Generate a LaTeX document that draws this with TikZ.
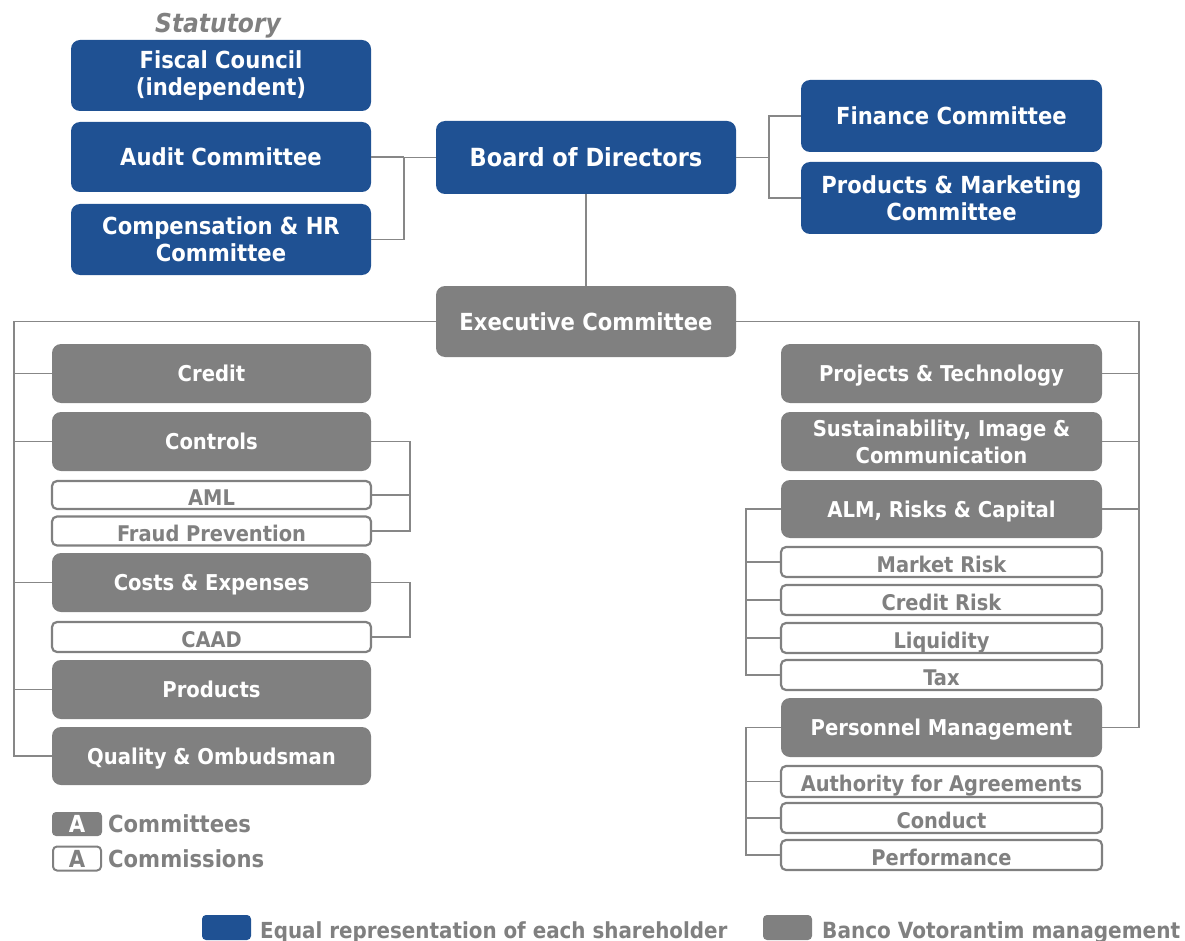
\documentclass[tikz,border=0pt]{standalone}
\usepackage{fontspec}
\setmainfont{DejaVu Sans Condensed}
\begin{document}
\definecolor{bvblue}{RGB}{31,81,147}
\definecolor{bvgray}{RGB}{128,128,128}
\definecolor{linegray}{RGB}{135,135,135}
\begin{tikzpicture}[x=1pt,y=-1pt,
  base/.style={rounded corners=9pt, inner sep=0pt, align=center, font=\bfseries\fontsize{23.5}{27}\selectfont},
  bluebox/.style={base, fill=bvblue, text=white, minimum width=300pt},
  graybox/.style={base, fill=bvgray, text=white, text depth=0pt},
  unitbox/.style={graybox, font=\bfseries\fontsize{21.8}{26.5}\selectfont},
  commbox/.style={base, rounded corners=5pt, draw=bvgray, line width=2.2pt, fill=white, text=bvgray,
    text height=20.5pt, text depth=0pt, font=\bfseries\fontsize{21.6}{24}\selectfont},
  lw/.style={minimum width=319pt},
  rw/.style={minimum width=321pt},
  conn/.style={draw=linegray, line width=1.8pt},
  legtext/.style={anchor=west, inner sep=0pt, text=bvgray, font=\bfseries\fontsize{23.5}{27}\selectfont},
  keytext/.style={legtext, anchor=base west, font=\bfseries\fontsize{22.1}{26}\selectfont}]
\useasboundingbox (0,0) rectangle (1185,941);

% statutory bodies
\node[text=bvgray, font=\bfseries\itshape\fontsize{26}{30}\selectfont] (stat) at (218,25.5) {Statutory};
\node[bluebox, minimum height=71pt] (fiscal) at (221,75.5) {Fiscal Council\\(independent)};
\node[bluebox, minimum height=70pt] (audit) at (221,157) {Audit Committee};
\node[bluebox, minimum height=71pt] (comp) at (221,239.5) {Compensation \& HR\\Committee};

% board and its committees
\node[bluebox, minimum height=73pt, font=\bfseries\fontsize{25}{29}\selectfont] (board) at (586,157.5) {Board of Directors};
\node[bluebox, minimum width=301pt, minimum height=72pt] (finance) at (951.5,116) {Finance Committee};
\node[bluebox, minimum width=301pt, minimum height=72pt] (prodmkt) at (951.5,198) {Products \& Marketing\\Committee};

% executive committee
\node[graybox, minimum width=300pt, minimum height=71pt] (exec) at (586,321.5) {Executive Committee};

% left column
\node[unitbox, lw, minimum height=59pt] (credit) at (211.5,373.5) {Credit};
\node[unitbox, lw, minimum height=59pt] (controls) at (211.5,441.5) {Controls};
\node[commbox, lw, minimum height=28pt] (aml) at (211.5,495) {AML};
\node[commbox, lw, minimum height=29pt] (fraud) at (211.5,531) {Fraud Prevention};
\node[unitbox, lw, minimum height=59pt] (costs) at (211.5,582.5) {Costs \& Expenses};
\node[commbox, lw, minimum height=30pt] (caad) at (211.5,637) {CAAD};
\node[unitbox, lw, minimum height=59pt] (products) at (211.5,689.5) {Products};
\node[unitbox, lw, minimum height=58pt] (quality) at (211.5,756) {Quality \& Ombudsman};

% right column
\node[unitbox, rw, minimum height=59pt] (projects) at (941.5,373.5) {Projects \& Technology};
\node[unitbox, rw, minimum height=59pt] (sustain) at (941.5,441.5) {Sustainability, Image \&\\Communication};
\node[unitbox, rw, minimum height=58pt] (alm) at (941.5,509) {ALM, Risks \& Capital};
\node[commbox, rw, minimum height=30pt] (market) at (941.5,562) {Market Risk};
\node[commbox, rw, minimum height=30pt] (creditrisk) at (941.5,600) {Credit Risk};
\node[commbox, rw, minimum height=30pt] (liquidity) at (941.5,638) {Liquidity};
\node[commbox, rw, minimum height=30pt] (tax) at (941.5,675) {Tax};
\node[unitbox, rw, minimum height=59pt] (personnel) at (941.5,727.5) {Personnel Management};
\node[commbox, rw, minimum height=31pt] (authority) at (941.5,781.5) {Authority for Agreements};
\node[commbox, rw, minimum height=30pt] (conduct) at (941.5,818) {Conduct};
\node[commbox, rw, minimum height=30pt] (performance) at (941.5,855) {Performance};

% connectors: board level
\coordinate (bl) at (404,157.5);
\draw[conn] (board.west) -- (bl) |- (comp.east);
\draw[conn] (audit.east) -- (audit.east -| bl);
\coordinate (br) at (769,157.5);
\draw[conn] (board.east) -- (br);
\draw[conn] (finance.west) -| (br) |- (prodmkt.west);
\draw[conn] (board.south) -- (exec.north);

% connectors: executive trunks
\coordinate (lt) at (14,321.5);
\draw[conn] (exec.west) -- (lt) |- (quality.west);
\foreach \n in {credit,controls,costs,products}
  \draw[conn] (\n.west) -- (\n.west -| lt);
\coordinate (rt) at (1139,321.5);
\draw[conn] (exec.east) -- (rt) |- (personnel.east);
\foreach \n in {projects,sustain,alm}
  \draw[conn] (\n.east) -- (\n.east -| rt);

% connectors: commissions
\coordinate (cb) at (410,441.5);
\draw[conn] (controls.east) -- (cb) |- (fraud.east);
\draw[conn] (aml.east) -- (aml.east -| cb);
\coordinate (eb) at (410,582.5);
\draw[conn] (costs.east) -- (eb) |- (caad.east);
\coordinate (ab) at (746,509);
\draw[conn] (alm.west) -- (ab) |- (tax.west);
\foreach \n in {market,creditrisk,liquidity}
  \draw[conn] (\n.west) -- (\n.west -| ab);
\coordinate (pb) at (746,727.5);
\draw[conn] (personnel.west) -- (pb) |- (performance.west);
\foreach \n in {authority,conduct}
  \draw[conn] (\n.west) -- (\n.west -| pb);

% key: committees / commissions
\node[graybox, rounded corners=4pt, minimum width=50pt, minimum height=24pt] (kcom) at (77,824) {A};
\node[legtext] (kcomt) at (108,824) {Committees};
\node[commbox, rounded corners=4pt, line width=2pt, minimum width=48pt, minimum height=24pt, text height=17pt, font=\bfseries\fontsize{23.5}{27}\selectfont] (kcms) at (77,858.5) {A};
\node[legtext] (kcmst) at (108,858.5) {Commissions};

% key: representation
\node[fill=bvblue, rounded corners=4pt, minimum width=49pt, minimum height=25pt, inner sep=0pt] (kblue) at (226.5,927.5) {};
\node[keytext] (kbluet) at (260,938) {Equal representation of each shareholder};
\node[fill=bvgray, rounded corners=4pt, minimum width=49pt, minimum height=25pt, inner sep=0pt] (kgray) at (787.5,927.5) {};
\node[keytext, font=\bfseries\fontsize{22.3}{26}\selectfont] (kgrayt) at (822,938) {Banco Votorantim management};
\end{tikzpicture}
\end{document}
